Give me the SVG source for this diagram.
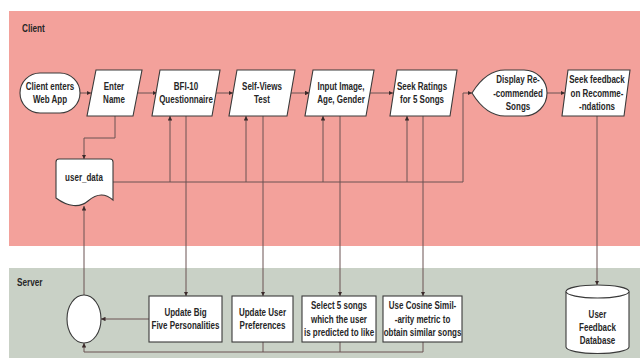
<svg xmlns="http://www.w3.org/2000/svg" width="640" height="358" viewBox="0 0 640 358">
<defs>
<style>
.band-c{fill:#F3A19B;}
.band-s{fill:#C9D1C6;}
.node{fill:#FFFFFF;stroke:#3a3a3a;stroke-width:1.1;}
.t{font-family:"Liberation Sans",Arial,sans-serif;font-size:10px;font-weight:bold;fill:#262626;text-anchor:middle;}
.lbl{font-family:"Liberation Sans",Arial,sans-serif;font-size:10px;font-weight:bold;fill:#262626;}
.c{fill:none;stroke:#6a5252;stroke-width:1;}
.a{marker-end:url(#arr);}
</style>
<marker id="arr" viewBox="0 0 6 6" refX="6" refY="3" markerWidth="4.5" markerHeight="4.5" markerUnits="userSpaceOnUse" orient="auto">
<path d="M0,0 L6,3 L0,6 Z" fill="#3a2a2a"/>
</marker>
</defs>
<rect x="0" y="0" width="640" height="358" fill="#FFFFFF"/>
<rect class="band-c" x="9" y="11" width="631" height="235"/>
<rect class="band-s" x="9" y="268" width="631" height="90"/>
<text class="lbl" transform="translate(22 0) scale(0.82 1)" x="0" y="32">Client</text>
<text class="lbl" transform="translate(17 0) scale(0.82 1)" x="0" y="286">Server</text>

<g id="connectors">
<path class="c a" d="M80,93 H91"/>
<path class="c a" d="M137.5,93 H157"/>
<path class="c a" d="M216,93 H233"/>
<path class="c a" d="M291,93 H309.5"/>
<path class="c a" d="M369.5,93 H393"/>
<path class="c a" d="M547,93 H565"/>
<path class="c a" d="M115,116 V138 H84 V159"/>
<path class="c a" d="M113,182 H463 V93 H472"/>
<path class="c a" d="M170,182 V116"/>
<path class="c a" d="M246,182 V116"/>
<path class="c a" d="M323,182 V116"/>
<path class="c a" d="M407,182 V116"/>
<path class="c a" d="M186,116 V296"/>
<path class="c a" d="M263,116 V296"/>
<path class="c a" d="M340,116 V296"/>
<path class="c a" d="M423,116 V296"/>
<path class="c a" d="M597,116 V285"/>
<path class="c a" d="M84,295 V206"/>
<path class="c a" d="M149,319 H101"/>
<path class="c a" d="M423,342 V352 H84 V343"/>
<path class="c" d="M340,342 V352"/>
<path class="c" d="M263,342 V352"/>
</g>

<g id="n-start">
<rect class="node" x="20" y="73" width="60" height="40" rx="20" ry="20"/>
<text class="t" transform="translate(50 0) scale(0.8 1)" x="0" y="90">Client enters</text>
<text class="t" transform="translate(50 0) scale(0.8 1)" x="0" y="103.5">Web App</text>
</g>
<g id="n-name">
<polygon class="node" points="96,70 142,70 133,116 87,116"/>
<text class="t" transform="translate(114 0) scale(0.8 1)" x="0" y="90">Enter</text>
<text class="t" transform="translate(114 0) scale(0.8 1)" x="0" y="103.5">Name</text>
</g>
<g id="n-bfi">
<polygon class="node" points="160,70 220,70 212,116 152,116"/>
<text class="t" transform="translate(186 0) scale(0.8 1)" x="0" y="90">BFI-10</text>
<text class="t" transform="translate(186 0) scale(0.8 1)" x="0" y="103.5">Questionnaire</text>
</g>
<g id="n-self">
<polygon class="node" points="237,70 295,70 287,116 229,116"/>
<text class="t" transform="translate(262 0) scale(0.8 1)" x="0" y="90">Self-Views</text>
<text class="t" transform="translate(262 0) scale(0.8 1)" x="0" y="103.5">Test</text>
</g>
<g id="n-input">
<polygon class="node" points="313,70 374,70 366,116 305,116"/>
<text class="t" transform="translate(341 0) scale(0.8 1)" x="0" y="90">Input Image,</text>
<text class="t" transform="translate(341 0) scale(0.8 1)" x="0" y="103.5">Age, Gender</text>
</g>
<g id="n-ratings">
<polygon class="node" points="397,70 457,70 450,116 390,116"/>
<text class="t" transform="translate(422 0) scale(0.8 1)" x="0" y="90">Seek Ratings</text>
<text class="t" transform="translate(422 0) scale(0.8 1)" x="0" y="103.5">for 5 Songs</text>
</g>
<g id="n-display">
<path class="node" d="M472,93 C480,80 490,70 505,70 L524,70 A23,23 0 0 1 524,116 L505,116 C490,116 480,106 472,93 Z"/>
<text class="t" transform="translate(518 0) scale(0.8 1)" x="0" y="83.5">Display Re-</text>
<text class="t" transform="translate(518 0) scale(0.8 1)" x="0" y="97">-commended</text>
<text class="t" transform="translate(518 0) scale(0.8 1)" x="0" y="110.5">Songs</text>
</g>
<g id="n-feedback">
<polygon class="node" points="568,70 630,70 624,116 562,116"/>
<text class="t" transform="translate(597 0) scale(0.8 1)" x="0" y="83.5">Seek feedback</text>
<text class="t" transform="translate(597 0) scale(0.8 1)" x="0" y="97">on Recomme-</text>
<text class="t" transform="translate(597 0) scale(0.8 1)" x="0" y="110.5">-ndations</text>
</g>
<g id="n-userdata">
<path class="node" d="M59,159 L110,159 Q113,159 113,162 L113,200 C104,192 96,194 88,201 C80,208 68,207 56,198 L56,162 Q56,159 59,159 Z"/>
<text class="t" transform="translate(84 0) scale(0.8 1)" x="0" y="181.5">user_data</text>
</g>
<g id="n-merge">
<ellipse class="node" cx="84" cy="319" rx="17" ry="24"/>
</g>
<g id="n-bigfive">
<rect class="node" x="149" y="296" width="73" height="46"/>
<text class="t" transform="translate(185.5 0) scale(0.8 1)" x="0" y="316">Update Big</text>
<text class="t" transform="translate(185.5 0) scale(0.8 1)" x="0" y="329.5">Five Personalities</text>
</g>
<g id="n-prefs">
<rect class="node" x="232" y="296" width="61" height="46"/>
<text class="t" transform="translate(262.5 0) scale(0.8 1)" x="0" y="316">Update User</text>
<text class="t" transform="translate(262.5 0) scale(0.8 1)" x="0" y="329.5">Preferences</text>
</g>
<g id="n-select">
<rect class="node" x="302" y="296" width="74" height="46"/>
<text class="t" transform="translate(339 0) scale(0.8 1)" x="0" y="309.5">Select 5 songs</text>
<text class="t" transform="translate(339 0) scale(0.8 1)" x="0" y="323">which the user</text>
<text class="t" transform="translate(339 0) scale(0.8 1)" x="0" y="336.5">is predicted to like</text>
</g>
<g id="n-cosine">
<rect class="node" x="383" y="296" width="79" height="46"/>
<text class="t" transform="translate(422.5 0) scale(0.8 1)" x="0" y="309.5">Use Cosine Simil-</text>
<text class="t" transform="translate(422.5 0) scale(0.8 1)" x="0" y="323">-arity metric to</text>
<text class="t" transform="translate(422.5 0) scale(0.8 1)" x="0" y="336.5">obtain similar songs</text>
</g>
<g id="n-db">
<path class="node" d="M566,291.5 L566,347 A31.5,6.5 0 0 0 629,347 L629,291.5 A31.5,6.5 0 0 0 566,291.5 Z"/>
<path class="node" d="M566,291.5 A31.5,6.5 0 0 0 629,291.5" fill="none"/>
<text class="t" transform="translate(597.5 0) scale(0.8 1)" x="0" y="318.5">User</text>
<text class="t" transform="translate(597.5 0) scale(0.8 1)" x="0" y="331.5">Feedback</text>
<text class="t" transform="translate(597.5 0) scale(0.8 1)" x="0" y="344.5">Database</text>
</g>
</svg>
